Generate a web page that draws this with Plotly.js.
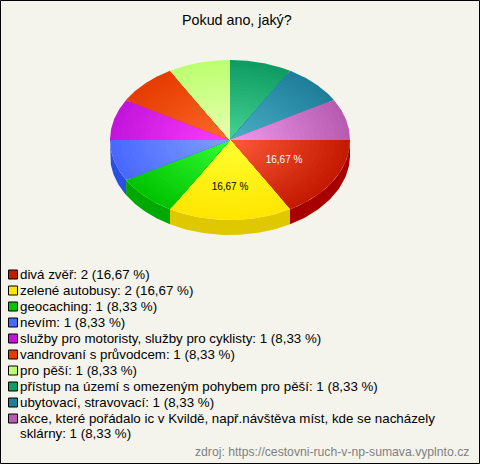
<!DOCTYPE html>
<html><head><meta charset="utf-8">
<script src="https://cdn.plot.ly/plotly-3.0.1.min.js"></script>
<style>html,body{margin:0;padding:0;background:#f5f4ec}#c{width:480px;height:464px}</style>
</head><body><div id="c"></div>
<script>
const categories = ["divá zvěř","zelené autobusy","geocaching","nevím","služby pro motoristy, služby pro cyklisty","vandrovaní s průvodcem","pro pěší","přístup na území s omezeným pohybem pro pěší","ubytovací, stravovací","akce, které pořádalo ic v Kvildě, např.návštěva míst, kde se nacházely|sklárny"];
const counts = [2,2,1,1,1,1,1,1,1,1];
const percents = ["16,67","16,67","8,33","8,33","8,33","8,33","8,33","8,33","8,33","8,33"];
const edgeColors = ["#c41a00","#ffe600","#00c400","#4a68ff","#c414dc","#e63c00","#bcff70","#0f9c62","#1f7f9b","#b85cb0"];
const centerColors = ["#ff5c3c","#ffff33","#36ff36","#80a2ff","#ff40ff","#ff6a2c","#eaffb4","#48d496","#4cb0c8","#f09cf0"];
const wallColors = ["#a80000","#e0c800","#00a800","#2a50e0","#a000b0","#b83000","#98cc58","#0c7c4e","#18657c","#93498c"];
const labelColors = ["#ffffff","#000000"];
const labelRadius = [0.52,0.59];

const W=480,H=464,CX=230,CY=140,RX=120,RY=80,DEPTH=15,STEPS=24;
const total=counts.reduce((a,b)=>a+b,0);
const hex=c=>[1,3,5].map(i=>parseInt(c.substr(i,2),16));
const mix=(a,b,t)=>{const A=hex(a),B=hex(b);return `rgb(${A.map((v,i)=>Math.round(v+(B[i]-v)*t)).join(',')})`;};
const traces=[];
let cum=0;
const slices=counts.map((v,i)=>{const a0=cum/total*2*Math.PI;cum+=v;return {i,a0,a1:cum/total*2*Math.PI};});
slices.forEach(s=>{
  const a0=s.a0,a1=Math.min(s.a1,Math.PI);
  if(a0>=Math.PI-1e-9) return;
  const xs=[],ys=[];
  for(let k=0;k<=40;k++){const a=a0+(a1-a0)*k/40;xs.push(CX+RX*Math.cos(a));ys.push(CY+RY*Math.sin(a));}
  for(let k=40;k>=0;k--){const a=a0+(a1-a0)*k/40;xs.push(CX+RX*Math.cos(a));ys.push(CY+DEPTH+RY*Math.sin(a));}
  traces.push({type:'scatter',mode:'lines',x:xs,y:ys,fill:'toself',fillcolor:wallColors[s.i],line:{width:0},hoverinfo:'skip',showlegend:false});
});
slices.forEach(s=>{
  for(let r=STEPS;r>=1;r--){
    const f=r/STEPS,xs=[CX],ys=[CY];
    for(let k=0;k<=40;k++){const a=s.a0+(s.a1-s.a0)*k/40;xs.push(CX+f*RX*Math.cos(a));ys.push(CY+f*RY*Math.sin(a));}
    xs.push(CX);ys.push(CY);
    traces.push({type:'scatter',mode:'lines',x:xs,y:ys,fill:'toself',fillcolor:mix(centerColors[s.i],edgeColors[s.i],f),line:{width:0},hoverinfo:'skip',showlegend:false});
  }
});
[0,1].forEach(i=>{
  const s=slices[i],m=(s.a0+s.a1)/2,f=labelRadius[i];
  traces.push({type:'scatter',mode:'text',x:[CX+f*RX*Math.cos(m)],y:[CY+f*RY*Math.sin(m)],
    text:[percents[i]+' %'],textposition:'middle center',textfont:{family:'Liberation Sans',size:10,color:labelColors[i]},hoverinfo:'skip',showlegend:false});
});

const annotations=[
 {xref:'x',yref:'y',x:237,y:20,text:'Pokud ano, jaký?',showarrow:false,xanchor:'center',yanchor:'middle',font:{family:'Liberation Sans',size:14.3,color:'#000'}},
 {xref:'x',yref:'y',x:471,y:452,text:'zdroj: https://cestovni-ruch-v-np-sumava.vyplnto.cz',showarrow:false,xanchor:'right',yanchor:'middle',font:{family:'Liberation Sans',size:12.2,color:'#808080'}}
];
const shapes=[{type:'rect',xref:'x',yref:'y',x0:0.5,x1:479.5,y0:0.5,y1:463.5,line:{color:'#000',width:1},fillcolor:'rgba(0,0,0,0)'}];
const addLegendLine=(text,y)=>annotations.push({xref:'x',yref:'y',x:19,y,text,showarrow:false,xanchor:'left',yanchor:'top',align:'left',
    borderpad:0,font:{family:'Liberation Sans',size:13.33,color:'#000'}});
categories.forEach((c,i)=>{
  const yc=274.5+16*i;
  shapes.push({type:'rect',xref:'x',yref:'y',x0:8.5,x1:17.5,y0:yc-4.5,y1:yc+4.5,line:{color:'#000',width:1},fillcolor:edgeColors[i]});
  const full=`${c}: ${counts[i]} (${percents[i]} %)`.split('|');
  full.forEach((t,k)=>addLegendLine(t,yc-9+15*k));
});

Plotly.newPlot('c',traces,{
  width:W,height:H,margin:{l:0,r:0,t:0,b:0},paper_bgcolor:'#f5f4ec',plot_bgcolor:'#f5f4ec',showlegend:false,
  xaxis:{range:[0,W],visible:false,fixedrange:true},
  yaxis:{range:[H,0],visible:false,fixedrange:true},
  shapes,annotations
},{staticPlot:true,displayModeBar:false});
</script></body></html>
